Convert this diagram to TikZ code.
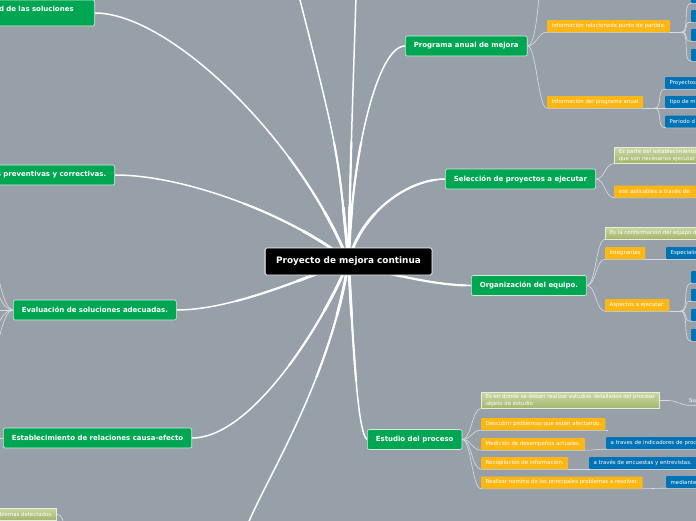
\documentclass[tikz,border=0pt]{standalone}
\usepackage{fontspec}
\setmainfont{DejaVu Sans}
\usetikzlibrary{backgrounds}
\definecolor{bg}{RGB}{151,160,168}
\definecolor{mgreen}{RGB}{0,166,81}
\definecolor{morange}{RGB}{253,183,20}
\definecolor{mblue}{RGB}{0,114,182}
\definecolor{lgtop}{RGB}{202,215,163}
\definecolor{lgbot}{RGB}{162,182,108}
\definecolor{lnk}{RGB}{218,222,226}
\newcommand\twig[2]{\draw[twig] (#1) .. controls +(9,0) and +(-9,0) .. (#2.south west) -- (#2.south east);}
\newcommand\trunklines[1]{%
\draw[#1] (root.center) .. controls (338,150) .. (topA);
\draw[#1] (root.center) .. controls (351,150) .. (topB);
\draw[#1] (root.center) .. controls (352,150) and (378,46) .. (prog.west);
\draw[#1] (root.center) .. controls (362,210) and (410,179) .. (sel.west);
\draw[#1] (root.center) .. controls (392,276) and (440,285.5) .. (org.west);
\draw[#1] (root.center) .. controls (354,360) and (358,432) .. (estu.west);
\draw[#1] (root.center) .. controls (320,330) and (250,438) .. (caus.east);
\draw[#1] (root.center) .. controls (300,280) and (230,310) .. (eval.east);
\draw[#1] (root.center) .. controls (300,220) and (190,175) .. (prev.east);
\draw[#1] (root.center) .. controls (300,140) and (170,13) .. (fact.east);
\draw[#1] (root.center) .. controls (330,380) and (268,475) .. (botA);}
\begin{document}
\begin{tikzpicture}[x=1pt,y=-1pt,
 mainbox/.style={draw=white, line width=0.8pt, fill=black, text=white, font=\fontsize{8.9}{10}\selectfont\bfseries, inner xsep=11pt, minimum height=27pt, rounded corners=1.5pt},
 topic/.style={draw=white!80!mgreen, line width=0.6pt, fill=mgreen, text=white, font=\fontsize{7}{9}\selectfont\bfseries, inner xsep=8.5pt, minimum height=20pt, rounded corners=2pt},
 obox/.style={fill=morange, text=white, font=\fontsize{5.4}{6.5}\selectfont, inner xsep=4.5pt, inner ysep=2pt, minimum height=12pt, rounded corners=1pt},
 bbox/.style={fill=mblue, text=white, font=\fontsize{5.4}{6.5}\selectfont, inner xsep=4.5pt, inner ysep=2pt, minimum height=12pt, rounded corners=1pt},
 gbox/.style={top color=lgtop, bottom color=lgbot, draw=white!55!lgtop, line width=0.5pt, text=white, font=\fontsize{5.4}{6.5}\selectfont, inner xsep=4.5pt, inner ysep=2pt, minimum height=12pt, align=left},
 cut/.style={text width=90pt, align=left},
 trunk/.style={draw=white, line width=1.5pt},
 twig/.style={draw=lnk, line width=0.6pt},
]
\useasboundingbox (0,0) rectangle (696,520);
\clip (0,0) rectangle (696,520);

% root
\node[mainbox] (root) at (348.5,261.5) {Proyecto de mejora continua};

% left topics
\node[topic,anchor=east,text width=90pt,align=right,inner xsep=21pt,minimum height=26pt] (fact) at (95,13) {d de las soluciones\\[-1pt]\mbox{}};
\node[topic,anchor=east] (prev) at (115,175) {s preventivas y correctivas.};
\node[topic,anchor=west] (eval) at (13,310) {Evaluación de soluciones adecuadas.};
\node[topic,anchor=west] (caus) at (3,438) {Establecimiento de relaciones causa-efecto};
\node[gbox,anchor=east] (det) at (56,514) {blemas detectados};

% Programa anual
\node[topic,anchor=west] (prog) at (405,46) {Programa anual de mejora};
\node[obox,anchor=west] (ip) at (547,26) {Información relacionada punto de partida.};
\node[obox,anchor=west] (ia) at (547,102) {Información del programa anual};
\node[bbox,anchor=west,cut] (pa) at (665,83) {Proyectos};
\node[bbox,anchor=west,cut] (pb) at (665,102) {tipo de m};
\node[bbox,anchor=west,cut] (pc) at (665,121.5) {Periodo d};
\node[bbox,anchor=west,minimum width=20pt] (ip1) at (691,-3) {};
\node[bbox,anchor=west,minimum width=20pt] (ip2) at (691,16) {};
\node[bbox,anchor=west,minimum width=20pt] (ip3) at (691,35) {};
\node[bbox,anchor=west,minimum width=20pt] (ip4) at (691,55) {};

% Seleccion
\node[topic,anchor=west] (sel) at (445,179) {Selección de proyectos a ejecutar};
\node[gbox,anchor=west,cut,text width=100pt] (sel1) at (614,155.5) {Es parte del establecimiento\\que son necesarios ejecutar};
\node[obox,anchor=west,cut] (sel2) at (614,191.5) {son aplicables a través de:};

% Organizacion
\node[topic,anchor=west] (org) at (471,285.5) {Organización del equipo.};
\node[gbox,anchor=west,cut,text width=110pt] (org1) at (605,233) {Es la conformación del equipo d};
\node[obox,anchor=west] (org2) at (605,253) {Integrantes};
\node[bbox,anchor=west,cut] (org2a) at (666,253) {Especialis};
\node[obox,anchor=west] (org3) at (605,305) {Aspectos a ejecutar:};
\node[bbox,anchor=west,minimum width=20pt] (oa1) at (691,277) {};
\node[bbox,anchor=west,minimum width=20pt] (oa2) at (691,295) {};
\node[bbox,anchor=west,minimum width=20pt] (oa3) at (691,315) {};
\node[bbox,anchor=west,minimum width=20pt] (oa4) at (691,335) {};

% Estudio
\node[topic,anchor=west] (estu) at (367,439.5) {Estudio del proceso};
\node[gbox,anchor=west] (e1) at (481,400.5) {Es en donde se deben realizar estudios detallados del proceso\\objeto de estudio};
\node[anchor=west,text=white,font=\fontsize{5.4}{6.5}\selectfont,inner xsep=1pt,inner ysep=2pt] (e1a) at (688,401) {Su};
\node[obox,anchor=west] (e2) at (481,424) {Descubrir problemas que estén afectando.};
\node[obox,anchor=west] (e3) at (481,444) {Medición de desempeños actuales.};
\node[bbox,anchor=west,cut] (e3a) at (606,443) {a traves de indicadores de proc};
\node[obox,anchor=west] (e4) at (481,463) {Recopilación de información.};
\node[bbox,anchor=west] (e4a) at (589,463) {a través de encuestas y entrevistas.};
\node[obox,anchor=west] (e5) at (481,482.5) {Realizar nomina de los principales problemas a resolver.};
\node[bbox,anchor=west,cut] (e5a) at (666,482) {mediante};

% free ends
\coordinate (topA) at (299,-4);
\coordinate (topB) at (356,-4);
\coordinate (botA) at (247,526);
\coordinate (pup) at (539,-4);
\coordinate (detx) at (64,527);
\coordinate (l1) at (-3,262);
\coordinate (l2) at (-3,285);
\coordinate (l3) at (-3,310);
\coordinate (l4) at (-3,333);
\coordinate (l5) at (-3,356);
\coordinate (cl) at (-4,438);

\begin{scope}[on background layer]
\fill[bg] (-5,-5) rectangle (701,525);
% trunks (tapered towards the ends)
\trunklines{trunk}
\begin{scope}
\clip (root.center) circle (120pt);
\trunklines{trunk,line width=2.1pt}
\end{scope}
\begin{scope}
\clip (root.center) circle (55pt);
\trunklines{trunk,line width=2.8pt}
\end{scope}
% programa
\draw[twig] (prog.east) .. controls (534,46) and (537,20) .. (pup);
\twig{prog.east}{ip}
\twig{prog.east}{ia}
\coordinate (ipx) at ([xshift=11pt]ip.south east);
\draw[twig] (ip.south east) -- (ipx);
\twig{ipx}{ip1}
\twig{ipx}{ip2}
\twig{ipx}{ip3}
\twig{ipx}{ip4}
\coordinate (iax) at ([xshift=11pt]ia.south east);
\draw[twig] (ia.south east) -- (iax);
\twig{iax}{pa}
\twig{iax}{pb}
\twig{iax}{pc}
% seleccion
\twig{sel.east}{sel1}
\twig{sel.east}{sel2}
% organizacion
\twig{org.east}{org1}
\twig{org.east}{org2}
\twig{org.east}{org3}
\twig{org2.south east}{org2a}
\coordinate (o3x) at ([xshift=11pt]org3.south east);
\draw[twig] (org3.south east) -- (o3x);
\twig{o3x}{oa1}
\twig{o3x}{oa2}
\twig{o3x}{oa3}
\twig{o3x}{oa4}
% estudio
\twig{estu.east}{e1}
\twig{estu.east}{e2}
\twig{estu.east}{e3}
\twig{estu.east}{e4}
\twig{estu.east}{e5}
\draw[twig] (e1.east) -- +(10,0) .. controls +(6,0) and +(-6,0) .. (e1a.south west) -- (e1a.south east);
\draw[twig] (e2.south east) -- +(2,0);
\twig{e3.south east}{e3a}
\twig{e4.south east}{e4a}
\twig{e5.south east}{e5a}
% left side
\draw[twig] (eval.west) .. controls +(-9,0) and +(0,12) .. (l1);
\draw[twig] (eval.west) .. controls +(-9,0) and +(0,10) .. (l2);
\draw[twig] (eval.west) -- (l3);
\draw[twig] (eval.west) .. controls +(-9,0) and +(0,-10) .. (l4);
\draw[twig] (eval.west) .. controls +(-9,0) and +(0,-12) .. (l5);
\draw[twig] (caus.west) -- (cl);
\draw[twig] (det.east) .. controls +(6,0) and +(0,-5) .. (detx);
\end{scope}
\end{tikzpicture}
\end{document}
